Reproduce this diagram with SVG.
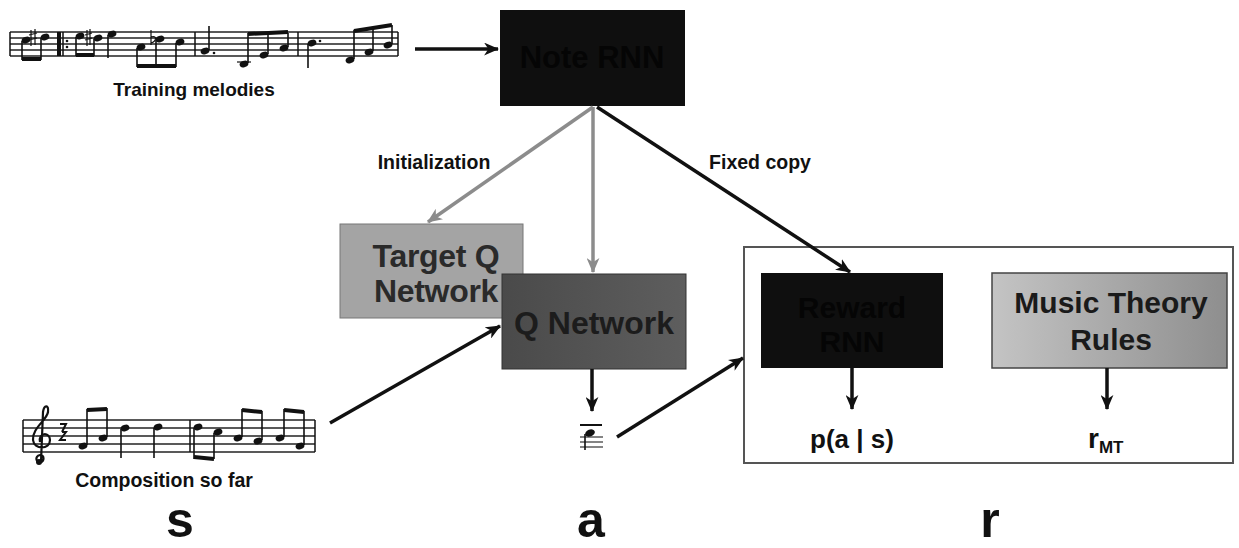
<svg xmlns="http://www.w3.org/2000/svg" width="1239" height="548" viewBox="0 0 1239 548">
<style>
.lbl{font-family:"Liberation Sans",Arial,sans-serif;font-weight:bold;fill:#111}
.box{font-family:"Liberation Sans",Arial,sans-serif;font-weight:bold;text-anchor:middle}
.con{fill:none;stroke:#111;stroke-width:3.5}
.gcon{fill:none;stroke:#8c8c8c;stroke-width:3.5}
.staff line{stroke:#222;stroke-width:1.3}
.bar{stroke:#111;stroke-width:1.5}
.stem{stroke:#111;stroke-width:1.6}
.beam{stroke:#111;stroke-width:4}
.nh{fill:#111}
</style>
<defs>
<marker id="ab" viewBox="0 0 14 12" refX="13" refY="6" markerWidth="15" markerHeight="13" orient="auto" markerUnits="userSpaceOnUse"><path d="M0,0 L14,6 L0,12 L4,6 z" fill="#111"/></marker>
<marker id="ag" viewBox="0 0 14 12" refX="13" refY="6" markerWidth="15" markerHeight="13" orient="auto" markerUnits="userSpaceOnUse"><path d="M0,0 L14,6 L0,12 L4,6 z" fill="#8c8c8c"/></marker>
<linearGradient id="gMT" x1="0" y1="0" x2="1" y2="0"><stop offset="0" stop-color="#c4c4c4"/><stop offset="1" stop-color="#8e8e8e"/></linearGradient>
<linearGradient id="gQ" x1="0" y1="0" x2="1" y2="0"><stop offset="0" stop-color="#4a4a4a"/><stop offset="1" stop-color="#5e5e5e"/></linearGradient>
</defs>

<!-- Training melodies staff -->
<g id="training-melodies">
<g class="staff"><line x1="10" y1="32" x2="398" y2="32"/><line x1="10" y1="38" x2="398" y2="38"/><line x1="10" y1="44" x2="398" y2="44"/><line x1="10" y1="50" x2="398" y2="50"/><line x1="10" y1="56" x2="398" y2="56"/></g>
<line class="bar" x1="10" y1="32" x2="10" y2="56"/>
<rect x="57" y="32" width="4" height="24" fill="#111"/>
<line class="bar" x1="63" y1="32" x2="63" y2="56"/>
<circle cx="67" cy="41" r="1.3" fill="#111"/><circle cx="67" cy="47" r="1.3" fill="#111"/>
<line class="bar" x1="195" y1="32" x2="195" y2="56"/>
<line class="bar" x1="298" y1="32" x2="298" y2="56"/>
<line class="bar" x1="398" y1="32" x2="398" y2="56"/>
<ellipse class="nh" cx="26" cy="40" rx="4.5" ry="3.2" transform="rotate(-20 26 40)"/>
<ellipse class="nh" cx="45" cy="37" rx="4.5" ry="3.2" transform="rotate(-20 45 37)"/>
<line class="stem" x1="22" y1="41" x2="22" y2="60"/><line class="stem" x1="41" y1="38" x2="41" y2="60"/>
<line class="beam" x1="22" y1="59" x2="41" y2="59"/>
<path d="M31 30 L31 46 M35 29 L35 45 M29 35 L37 33 M29 40 L37 38" stroke="#111" stroke-width="1.2"/>
<ellipse class="nh" cx="80" cy="36" rx="4.5" ry="3.2" transform="rotate(-20 80 36)"/>
<ellipse class="nh" cx="98" cy="38" rx="4.5" ry="3.2" transform="rotate(-20 98 38)"/>
<line class="stem" x1="76" y1="37" x2="76" y2="56"/><line class="stem" x1="94" y1="39" x2="94" y2="56"/>
<line class="beam" x1="76" y1="55" x2="94" y2="55"/>
<path d="M87 30 L87 46 M90 29 L90 45 M85 35 L92 33 M85 40 L92 38" stroke="#111" stroke-width="1.2"/>
<ellipse class="nh" cx="112" cy="34" rx="4.5" ry="3.2" transform="rotate(-20 112 34)"/>
<line class="stem" x1="108" y1="35" x2="108" y2="58"/>
<ellipse class="nh" cx="141" cy="47" rx="4.5" ry="3.2" transform="rotate(-20 141 47)"/>
<ellipse class="nh" cx="160" cy="39" rx="4.5" ry="3.2" transform="rotate(-20 160 39)"/>
<ellipse class="nh" cx="180" cy="42" rx="4.5" ry="3.2" transform="rotate(-20 180 42)"/>
<line class="stem" x1="137" y1="48" x2="137" y2="67"/><line class="stem" x1="156" y1="40" x2="156" y2="67"/><line class="stem" x1="176" y1="43" x2="176" y2="67"/>
<line class="beam" x1="137" y1="66" x2="176" y2="66"/>
<path d="M151 30 L151 45 M151 37 C157 35 157 41 151 43" stroke="#111" stroke-width="1.2" fill="none"/>
<ellipse class="nh" cx="205" cy="51" rx="4.5" ry="3.2" transform="rotate(-20 205 51)"/>
<line class="stem" x1="209" y1="50" x2="209" y2="26"/><circle cx="214" cy="53" r="1.3" fill="#111"/>
<ellipse class="nh" cx="244" cy="64" rx="4.5" ry="3.2" transform="rotate(-20 244 64)"/>
<line x1="237" y1="62" x2="251" y2="62" stroke="#111" stroke-width="1.2"/>
<ellipse class="nh" cx="264" cy="55" rx="4.5" ry="3.2" transform="rotate(-20 264 55)"/>
<ellipse class="nh" cx="284" cy="48" rx="4.5" ry="3.2" transform="rotate(-20 284 48)"/>
<line class="stem" x1="248" y1="63" x2="248" y2="33"/><line class="stem" x1="268" y1="54" x2="268" y2="33"/><line class="stem" x1="288" y1="47" x2="288" y2="33"/>
<line class="beam" x1="248" y1="34" x2="288" y2="32"/>
<ellipse class="nh" cx="312" cy="43" rx="4.5" ry="3.2" transform="rotate(-20 312 43)"/>
<line class="stem" x1="308" y1="44" x2="308" y2="68"/><circle cx="320" cy="41" r="1.3" fill="#111"/>
<ellipse class="nh" cx="350" cy="60" rx="4.5" ry="3.2" transform="rotate(-20 350 60)"/>
<ellipse class="nh" cx="369" cy="52" rx="4.5" ry="3.2" transform="rotate(-20 369 52)"/>
<ellipse class="nh" cx="388" cy="45" rx="4.5" ry="3.2" transform="rotate(-20 388 45)"/>
<line class="stem" x1="354" y1="59" x2="354" y2="30"/><line class="stem" x1="373" y1="51" x2="373" y2="28"/><line class="stem" x1="392" y1="44" x2="392" y2="25"/>
<line class="beam" x1="354" y1="31" x2="392" y2="25"/>
<text class="lbl" x="194" y="96" font-size="19" text-anchor="middle">Training melodies</text>
</g>

<!-- Composition so far staff -->
<g id="composition-so-far">
<g class="staff"><line x1="23" y1="420" x2="315" y2="420"/><line x1="23" y1="428" x2="315" y2="428"/><line x1="23" y1="436" x2="315" y2="436"/><line x1="23" y1="444" x2="315" y2="444"/><line x1="23" y1="452" x2="315" y2="452"/></g>
<line class="bar" x1="23" y1="420" x2="23" y2="452"/>
<line class="bar" x1="190" y1="420" x2="190" y2="452"/>
<line class="bar" x1="315" y1="420" x2="315" y2="452"/>
<path d="M42 462 C36 464 34 456 40 455 C45 455 44 462 41 462 M41 462 L43 412 C44 405 49 404 48 412 C47 420 32 428 33 440 C34 450 50 450 50 440 C50 432 38 432 40 442" fill="none" stroke="#111" stroke-width="2.2"/>
<circle cx="39" cy="462" r="3" fill="#111"/>
<path d="M60 424 L66 424 L62 432 M62 432 L66 432 L60 440 L66 440" fill="none" stroke="#111" stroke-width="2"/>
<ellipse class="nh" cx="83" cy="446" rx="4.5" ry="3.3" transform="rotate(-20 83 446)"/>
<ellipse class="nh" cx="103" cy="438" rx="4.5" ry="3.3" transform="rotate(-20 103 438)"/>
<line class="stem" x1="87" y1="445" x2="87" y2="409"/><line class="stem" x1="107" y1="437" x2="107" y2="408"/>
<line class="beam" x1="87" y1="410" x2="107" y2="409"/>
<ellipse class="nh" cx="125" cy="428" rx="4.5" ry="3.3" transform="rotate(-20 125 428)"/>
<line class="stem" x1="121" y1="429" x2="121" y2="458"/>
<ellipse class="nh" cx="158" cy="427" rx="4.5" ry="3.3" transform="rotate(-20 158 427)"/>
<line class="stem" x1="154" y1="428" x2="154" y2="458"/>
<ellipse class="nh" cx="198" cy="427" rx="4.5" ry="3.3" transform="rotate(-20 198 427)"/>
<ellipse class="nh" cx="218" cy="432" rx="4.5" ry="3.3" transform="rotate(-20 218 432)"/>
<line class="stem" x1="194" y1="428" x2="194" y2="459"/><line class="stem" x1="214" y1="433" x2="214" y2="459"/>
<line class="beam" x1="194" y1="457" x2="214" y2="459"/>
<ellipse class="nh" cx="238" cy="438" rx="4.5" ry="3.3" transform="rotate(-20 238 438)"/>
<ellipse class="nh" cx="258" cy="441" rx="4.5" ry="3.3" transform="rotate(-20 258 441)"/>
<line class="stem" x1="242" y1="437" x2="242" y2="409"/><line class="stem" x1="262" y1="440" x2="262" y2="411"/>
<line class="beam" x1="242" y1="410" x2="262" y2="412"/>
<ellipse class="nh" cx="280" cy="438" rx="4.5" ry="3.3" transform="rotate(-20 280 438)"/>
<ellipse class="nh" cx="300" cy="446" rx="4.5" ry="3.3" transform="rotate(-20 300 446)"/>
<line class="stem" x1="284" y1="437" x2="284" y2="409"/><line class="stem" x1="304" y1="445" x2="304" y2="411"/>
<line class="beam" x1="284" y1="410" x2="304" y2="412"/>
<text class="lbl" x="164" y="487" font-size="19.5" text-anchor="middle">Composition so far</text>
</g>

<!-- action note icon -->
<g id="action-note">
<line x1="580" y1="425" x2="602" y2="425" stroke="#111" stroke-width="2"/>
<line x1="580" y1="437" x2="603" y2="437" stroke="#333" stroke-width="1.2"/>
<line x1="580" y1="442" x2="603" y2="442" stroke="#333" stroke-width="1.2"/>
<line x1="580" y1="447" x2="603" y2="447" stroke="#333" stroke-width="1.2"/>
<ellipse class="nh" cx="590" cy="433" rx="5" ry="3.5" transform="rotate(-20 590 433)"/>
<line class="stem" x1="585" y1="434" x2="585" y2="450"/>
</g>

<!-- Note RNN -->
<g id="note-rnn">
<rect x="500" y="10" width="185" height="96" fill="#0f0f0f"/>
<text class="box" x="592" y="68" font-size="31" fill="#050505">Note RNN</text>
</g>

<!-- Target Q Network -->
<g id="target-q-network">
<rect x="340" y="224" width="183" height="94" fill="#a4a4a4" stroke="#777" stroke-width="1"/>
<text class="box" x="436" y="267" font-size="32" fill="#2a2a2a" letter-spacing="-0.3">Target Q</text>
<text class="box" x="436" y="302" font-size="32" fill="#2a2a2a" letter-spacing="-0.3">Network</text>
</g>

<!-- Q Network -->
<g id="q-network">
<rect x="502" y="274" width="184" height="95" fill="url(#gQ)" stroke="#333" stroke-width="1"/>
<text class="box" x="594" y="334" font-size="32" fill="#1c1c1c">Q Network</text>
</g>

<!-- Reward container -->
<g id="reward-box">
<rect x="744" y="247" width="489" height="216" fill="#fff" stroke="#555" stroke-width="2"/>
</g>

<!-- Reward RNN -->
<g id="reward-rnn">
<rect x="761" y="273" width="182" height="95" fill="#0f0f0f"/>
<text class="box" x="852" y="318" font-size="30" fill="#050505">Reward</text>
<text class="box" x="852" y="352" font-size="30" fill="#050505">RNN</text>
</g>

<!-- Music Theory Rules -->
<g id="music-theory-rules">
<rect x="992" y="273" width="235" height="95" fill="url(#gMT)" stroke="#444" stroke-width="1.5"/>
<text class="box" x="1111" y="313" font-size="30" fill="#1a1a1a">Music Theory</text>
<text class="box" x="1111" y="350" font-size="30" fill="#1a1a1a">Rules</text>
</g>

<!-- Connectors -->
<g id="connectors">
<line class="con" x1="415" y1="49" x2="498" y2="49" marker-end="url(#ab)"/>
<line class="gcon" x1="593" y1="107" x2="428" y2="222" marker-end="url(#ag)"/>
<line class="gcon" x1="593" y1="107" x2="593" y2="272" marker-end="url(#ag)"/>
<line class="con" x1="597" y1="107" x2="850" y2="272" marker-end="url(#ab)"/>
<line class="con" x1="330" y1="423" x2="500" y2="326" marker-end="url(#ab)"/>
<line class="con" x1="592" y1="369" x2="592" y2="411" marker-end="url(#ab)"/>
<line class="con" x1="617" y1="437" x2="743" y2="358" marker-end="url(#ab)"/>
<line class="con" x1="852" y1="368" x2="852" y2="409" marker-end="url(#ab)"/>
<line class="con" x1="1107" y1="368" x2="1107" y2="409" marker-end="url(#ab)"/>
</g>

<!-- Labels -->
<g id="labels">
<text class="lbl" x="434" y="169" font-size="19.5" text-anchor="middle">Initialization</text>
<text class="lbl" x="760" y="169" font-size="19.5" text-anchor="middle">Fixed copy</text>
<text class="lbl" x="852" y="448" font-size="26" text-anchor="middle">p(a | s)</text>
<text class="lbl" x="1088" y="448" font-size="28">r<tspan font-size="17" dy="5">MT</tspan></text>
<text class="lbl" x="180" y="537" font-size="50" text-anchor="middle">s</text>
<text class="lbl" x="591" y="537" font-size="50" text-anchor="middle">a</text>
<text class="lbl" x="990" y="537" font-size="50" text-anchor="middle">r</text>
</g>
</svg>
